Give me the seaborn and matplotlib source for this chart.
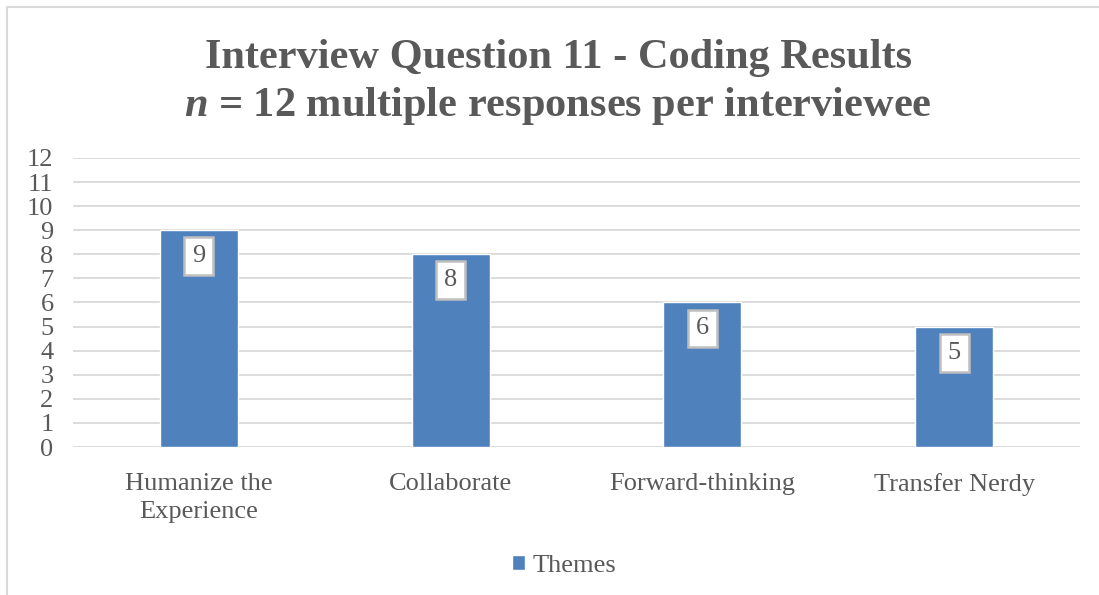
import matplotlib
matplotlib.use("Agg")
import matplotlib.pyplot as plt
from matplotlib.lines import Line2D
import seaborn as sns
import pandas as pd

# Coding results for interview question 11
themes = ["Humanize the\nExperience", "Collaborate", "Forward-thinking", "Transfer Nerdy"]
counts = [9, 8, 6, 5]
series_name = "Themes"
y_ticks = list(range(0, 13))

title_line1 = "Interview Question 11 - Coding Results"
title_line2 = r"$\boldsymbol{n}$ = 12 multiple responses per interviewee"

BAR_BLUE = "#4f81bd"
TEXT_GRAY = "#595959"
GRID_GRAY = "#d9d9d9"

sns.set_theme(style="white")
plt.rcParams["font.family"] = ["Liberation Serif", "DejaVu Serif"]
plt.rcParams["mathtext.fontset"] = "custom"
plt.rcParams["mathtext.bfit"] = "Liberation Serif:bold:italic"
plt.rcParams["mathtext.it"] = "Liberation Serif:bold:italic"

df = pd.DataFrame({"theme": themes, "count": counts, "series": series_name})

fig = plt.figure(figsize=(10.99, 5.95), dpi=100)
ax = fig.add_axes([0.0664, 0.2487, 0.9163, 0.4858])

sns.barplot(data=df, x="theme", y="count", hue="series",
            palette=[BAR_BLUE], width=0.31, ax=ax, saturation=1)

ax.set_ylim(0, 12)
ax.set_xlim(-0.5, len(themes) - 0.5)
ax.set_yticks(y_ticks)
ax.yaxis.grid(True, color=GRID_GRAY, linewidth=1.3)
ax.set_axisbelow(True)
for s in ax.spines.values():
    s.set_visible(False)
ax.set_xlabel("")
ax.set_ylabel("")
ax.tick_params(axis="both", length=0, labelsize=19, colors=TEXT_GRAY)
ax.tick_params(axis="y", pad=14)
ax.tick_params(axis="x", pad=18.5)
for lbl in ax.get_xticklabels():
    lbl.set_linespacing(1.38)

# value labels inside the top of each bar
for patch, val in zip(ax.patches, counts):
    cx = patch.get_x() + patch.get_width() / 2
    ax.annotate(str(val), xy=(cx, patch.get_height()), xytext=(0, -26),
                textcoords="offset pixels", ha="center", va="center",
                fontsize=19, color=TEXT_GRAY,
                bbox=dict(boxstyle="square,pad=0.3", fc="white",
                          ec="#bfbfbf", lw=1.8))

# legend below the plot
leg = ax.legend(loc="center", frameon=False, fontsize=19, handlelength=0.5,
                handleheight=0.5, handletextpad=0.3,
                bbox_to_anchor=(564 / 1099, 1 - 566 / 595),
                bbox_transform=fig.transFigure)
for t in leg.get_texts():
    t.set_color(TEXT_GRAY)

fig.text(0.508, 1 - 58 / 595, title_line1, ha="center", va="center",
         fontsize=30.5, fontweight="bold", color=TEXT_GRAY)
fig.text(0.508, 1 - 106 / 595, title_line2, ha="center", va="center",
         fontsize=30.5, fontweight="bold", color=TEXT_GRAY)

# chart frame edges
fig.add_artist(Line2D([7 / 1099, 1], [1 - 7 / 595, 1 - 7 / 595],
                      transform=fig.transFigure, color=GRID_GRAY, lw=1.5))
fig.add_artist(Line2D([7 / 1099, 7 / 1099], [0, 1 - 7 / 595],
                      transform=fig.transFigure, color=GRID_GRAY, lw=1.5))

fig.savefig("out.png", dpi=100, facecolor="white")
